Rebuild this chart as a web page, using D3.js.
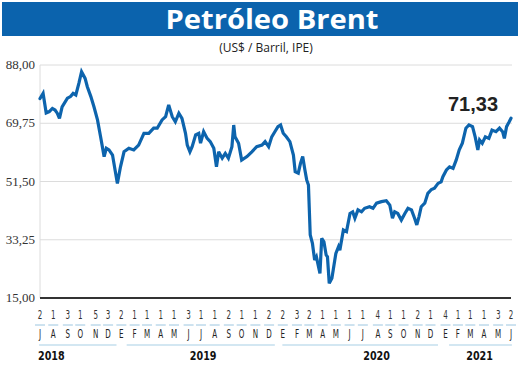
<!DOCTYPE html>
<html><head><meta charset="utf-8">
<script src="https://cdn.jsdelivr.net/npm/d3@7"></script>
<style>body{margin:0;background:#fff}svg{display:block}</style>
</head><body><div id="chart"></div>
<script>
const title = "Petróleo Brent";
const subtitle = "(US$ / Barril, IPE)";
const yTicks = [15, 33.25, 51.5, 69.75, 88];
const lastLabel = "71,33";
// series: date strings and Brent price values (US$/barrel)
const dates = ["2018-07-02","2018-07-09","2018-07-16","2018-07-23","2018-07-30","2018-08-05","2018-08-10","2018-08-15","2018-08-21","2018-09-02","2018-09-09","2018-09-15","2018-09-21","2018-09-28","2018-10-04","2018-10-12","2018-10-17","2018-10-25","2018-11-01","2018-11-09","2018-11-16","2018-11-24","2018-11-29","2018-12-05","2018-12-13","2018-12-20","2018-12-24","2018-12-31","2019-01-08","2019-01-19","2019-01-30","2019-02-10","2019-02-22","2019-03-05","2019-03-16","2019-03-24","2019-04-04","2019-04-12","2019-04-19","2019-04-27","2019-05-04","2019-05-12","2019-05-19","2019-05-27","2019-05-31","2019-06-06","2019-06-11","2019-06-19","2019-06-26","2019-06-30","2019-07-07","2019-07-15","2019-07-22","2019-07-30","2019-08-05","2019-08-10","2019-08-18","2019-08-25","2019-09-01","2019-09-09","2019-09-13","2019-09-16","2019-09-24","2019-10-01","2019-10-13","2019-10-24","2019-11-04","2019-11-16","2019-11-23","2019-12-01","2019-12-08","2019-12-15","2019-12-22","2019-12-28","2020-01-03","2020-01-10","2020-01-18","2020-01-26","2020-01-30","2020-02-06","2020-02-11","2020-02-16","2020-02-21","2020-02-25","2020-02-29","2020-03-02","2020-03-04","2020-03-09","2020-03-14","2020-03-18","2020-03-22","2020-03-26","2020-03-30","2020-04-04","2020-04-09","2020-04-12","2020-04-16","2020-04-22","2020-04-25","2020-05-01","2020-05-07","2020-05-10","2020-05-18","2020-05-25","2020-06-02","2020-06-08","2020-06-13","2020-06-20","2020-06-28","2020-07-05","2020-07-16","2020-07-24","2020-08-01","2020-08-12","2020-08-23","2020-08-31","2020-09-06","2020-09-11","2020-09-18","2020-09-26","2020-10-04","2020-10-11","2020-10-19","2020-10-26","2020-10-31","2020-11-05","2020-11-10","2020-11-18","2020-11-25","2020-12-03","2020-12-10","2020-12-18","2020-12-25","2020-12-29","2021-01-06","2021-01-13","2021-01-21","2021-01-28","2021-02-04","2021-02-11","2021-02-19","2021-02-26","2021-03-06","2021-03-12","2021-03-18","2021-03-22","2021-03-28","2021-04-04","2021-04-12","2021-04-19","2021-04-28","2021-05-06","2021-05-13","2021-05-17","2021-05-22","2021-05-28","2021-06-01"];
const values = [77.5,79.1,73.0,73.4,74.4,73.9,72.9,71.3,74.9,77.6,78.1,79.1,78.6,82.3,85.9,83.8,81.2,78.1,74.9,70.8,65.5,59.3,61.9,61.4,59.8,54.1,50.9,56.1,60.8,61.9,61.4,62.9,66.6,66.6,68.2,68.2,70.8,71.8,75.5,71.8,70.2,72.9,71.3,66.6,62.9,60.8,62.4,66.1,66.6,63.5,67.1,65.0,64.0,61.9,56.1,60.8,58.8,60.3,58.8,62.4,69.2,65.5,63.5,58.2,59.3,60.8,62.4,62.9,64.0,62.4,65.5,67.1,68.7,69.2,66.6,65.5,64.0,59.8,54.6,54.1,57.2,59.3,55.1,52.0,50.4,42.6,34.8,32.1,26.9,27.9,25.3,22.7,33.7,32.6,28.5,27.9,19.6,21.2,23.8,29.0,31.1,30.0,36.3,35.8,41.5,42.0,40.0,42.6,42.0,43.1,43.6,43.1,44.7,45.2,45.5,44.1,40.0,42.0,41.5,39.4,41.5,43.1,42.6,40.0,37.9,40.5,43.6,44.7,47.8,49.0,49.4,50.9,51.4,53.0,55.1,56.1,55.6,58.2,61.4,63.5,68.2,69.2,68.7,65.5,61.4,64.5,63.5,65.5,65.0,67.6,67.1,68.2,67.1,65.0,68.7,70.2,71.33];
// x axis: month first-trading-day labels
const monthDates = ["2018-07-02","2018-08-01","2018-09-03","2018-10-01","2018-11-05","2018-12-03","2019-01-02","2019-02-01","2019-03-01","2019-04-01","2019-05-01","2019-06-03","2019-07-01","2019-08-01","2019-09-02","2019-10-01","2019-11-01","2019-12-02","2020-01-02","2020-02-03","2020-03-02","2020-04-01","2020-05-01","2020-06-01","2020-07-01","2020-08-04","2020-09-01","2020-10-01","2020-11-02","2020-12-01","2021-01-04","2021-02-01","2021-03-01","2021-04-01","2021-05-03","2021-06-01"];
const dayLabels = ["2","1","3","1","5","3","2","1","1","1","1","3","1","1","2","1","1","2","2","3","2","1","1","1","1","4","1","1","2","1","4","1","1","1","3","2"];
const monthLabels = ["J","A","S","O","N","D","E","F","M","A","M","J","J","A","S","O","N","D","E","F","M","A","M","J","J","A","S","O","N","D","E","F","M","A","M","J"];
const years = ["2018","2019","2020","2021"];
const yearPos = ["2018-07-02","2019-07-06","2020-08-01","2021-03-22"];
const yearSpans = [["2018-06-30","2018-12-22"],["2019-01-14","2019-12-15"],["2020-01-01","2020-12-18"],["2021-01-12","2021-06-03"]];

const W = 520, H = 367;
const parse = d3.timeParse("%Y-%m-%d");
const data = dates.map((d, i) => ({date: parse(d), value: values[i]}));
const svg = d3.select("#chart").append("svg").attr("width", W).attr("height", H);

const x = d3.scaleTime().domain([parse("2018-07-02"), parse("2021-06-01")]).range([40, 511]);
const y = d3.scaleLinear().domain([15, 88]).range([298, 65]);

// title bar
svg.append("rect").attr("x", 2).attr("y", 2).attr("width", 516).attr("height", 34).attr("fill", "#0b63ad");
svg.append("text").attr("x", 272).attr("y", 29).attr("text-anchor", "middle")
  .attr("font-family", "'Open Sans', sans-serif").attr("font-weight", 700).attr("font-size", 26)
  .attr("fill", "#fff").attr("textLength", 213).attr("lengthAdjust", "spacingAndGlyphs").text(title);
svg.append("text").attr("x", 266).attr("y", 52).attr("text-anchor", "middle")
  .attr("font-family", "'Open Sans', sans-serif").attr("font-size", 12).attr("fill", "#222").text(subtitle);

// grid
svg.append("g").selectAll("line").data(yTicks.slice(1)).join("line")
  .attr("x1", 40).attr("x2", 512).attr("y1", d => y(d)).attr("y2", d => y(d))
  .attr("stroke", "#dcdcdc").attr("stroke-width", 1);
svg.append("line").attr("x1", 40).attr("x2", 40).attr("y1", y(88)).attr("y2", y(15))
  .attr("stroke", "#dcdcdc");
svg.append("g").selectAll("text").data(yTicks).join("text")
  .attr("x", 35).attr("y", d => y(d) + 4).attr("text-anchor", "end")
  .attr("font-family", "'Liberation Serif', serif").attr("font-size", 13).attr("fill", "#333")
  .text(d => d3.format(".2f")(d).replace(".", ","));
svg.append("line").attr("x1", 40).attr("x2", 511).attr("y1", y(15)).attr("y2", y(15))
  .attr("stroke", "#333").attr("stroke-width", 2);

// line
const line = d3.line().x(d => x(d.date)).y(d => y(d.value));
svg.append("path").datum(data).attr("d", line).attr("fill", "none")
  .attr("stroke", "#0d64ad").attr("stroke-width", 3.2).attr("stroke-linejoin", "miter").attr("stroke-miterlimit", 3).attr("stroke-linecap", "round");

svg.append("text").attr("x", 473).attr("y", 111).attr("text-anchor", "middle")
  .attr("font-family", "'Liberation Sans', Arial, sans-serif").attr("font-weight", 700).attr("font-size", 20)
  .attr("fill", "#222").text(lastLabel);

// x axis rows
const md = monthDates.map(parse);
const cond = (g, yy, txt, fill, fs) => {
  g.selectAll("g").data(md).join("g")
    .attr("transform", d => `translate(${x(d)},${yy}) scale(0.55,1)`)
    .append("text").attr("text-anchor", "middle")
    .attr("font-family", "'DejaVu Sans', sans-serif").attr("font-size", fs)
    .attr("fill", fill).text((d, i) => txt[i]);
};
cond(svg.append("g"), 319, dayLabels, "#333", 13);
svg.append("g").selectAll("line").data(md).join("line")
  .attr("x1", d => x(d) - 5).attr("x2", d => x(d) + 5).attr("y1", 325).attr("y2", 325)
  .attr("stroke", "#9cc6e0").attr("stroke-width", 1);
cond(svg.append("g"), 338, monthLabels, "#222", 13);
svg.append("g").selectAll("line").data(yearSpans).join("line")
  .attr("x1", d => x(parse(d[0]))).attr("x2", d => x(parse(d[1]))).attr("y1", 345).attr("y2", 345)
  .attr("stroke", "#a8cfe6").attr("stroke-width", 1.2);
svg.append("g").selectAll("g").data(years).join("g")
  .attr("transform", (d, i) => `translate(${x(parse(yearPos[i])) + (i === 0 ? -2 : 0)},360) scale(0.8,1)`)
  .append("text").attr("text-anchor", (d, i) => i === 0 ? "start" : "middle")
  .attr("font-family", "'DejaVu Sans', sans-serif").attr("font-weight", 700).attr("font-size", 12)
  .attr("fill", "#111").text(d => d);
</script>
</body></html>
